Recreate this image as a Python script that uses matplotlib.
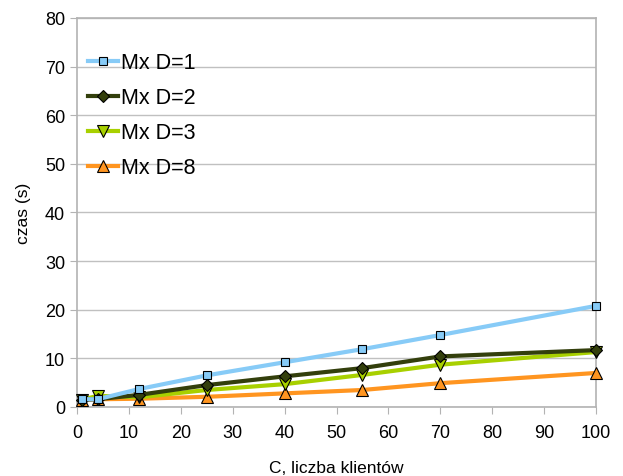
import numpy as np
import matplotlib
matplotlib.use("Agg")
import matplotlib.pyplot as plt

clients = [1, 4, 12, 25, 40, 55, 70, 100]
d1 = [1.6, 1.6, 3.7, 6.5, 9.2, 11.9, 14.8, 20.8]
d2 = [1.5, 1.6, 2.5, 4.5, 6.3, 8.0, 10.4, 11.7]
d3 = [1.5, 2.3, 2.0, 3.5, 4.7, 6.6, 8.7, 11.3]
d8 = [1.5, 1.6, 1.7, 2.1, 2.8, 3.5, 4.9, 7.0]

labels = ["Mx D=1", "Mx D=2", "Mx D=3", "Mx D=8"]
series = [d1, d2, d3, d8]
colors = ["#87cbf7", "#333f0c", "#a8d000", "#ff9520"]
markers = ["s", "D", "v", "^"]
msizes = [6, 6, 8, 8]

plt.rcParams['font.family'] = ['Liberation Sans', 'DejaVu Sans']
fig = plt.figure(figsize=(6.23, 4.77), dpi=100)
ax = fig.add_axes([77/623, 1-408/477, (596-77)/623, (408-19)/477])

for i in range(4):
    ax.plot(clients, series[i], color=colors[i], lw=3, marker=markers[i],
            ms=msizes[i], mfc=colors[i], mec="black", mew=0.8,
            label=labels[i], zorder=10 - i, clip_on=False)

ax.set_xlim(0, 100)
ax.set_ylim(0, 80)
ax.set_xticks(np.arange(0, 101, 10))
ax.set_yticks(np.arange(0, 81, 10))
ax.yaxis.grid(True, color="#c0c0c0", lw=1)
ax.set_axisbelow(True)
for s in ax.spines.values():
    s.set_color("#b3b3b3")
    s.set_linewidth(1.2)
ax.tick_params(axis="both", colors="#b3b3b3", labelcolor="black", labelsize=13, length=5)
ax.tick_params(axis="x", pad=7)
ax.set_xlabel("C, liczba klientów", fontsize=12.5, labelpad=14)
ax.set_ylabel("czas (s)", fontsize=12.5, labelpad=10)

leg = ax.legend(loc="upper left", frameon=False, fontsize=15.5, handlelength=1.4,
                handletextpad=0.15, labelspacing=0.65, borderaxespad=0.1,
                bbox_to_anchor=(0.0, 0.94))

fig.savefig("out.png", dpi=100)
